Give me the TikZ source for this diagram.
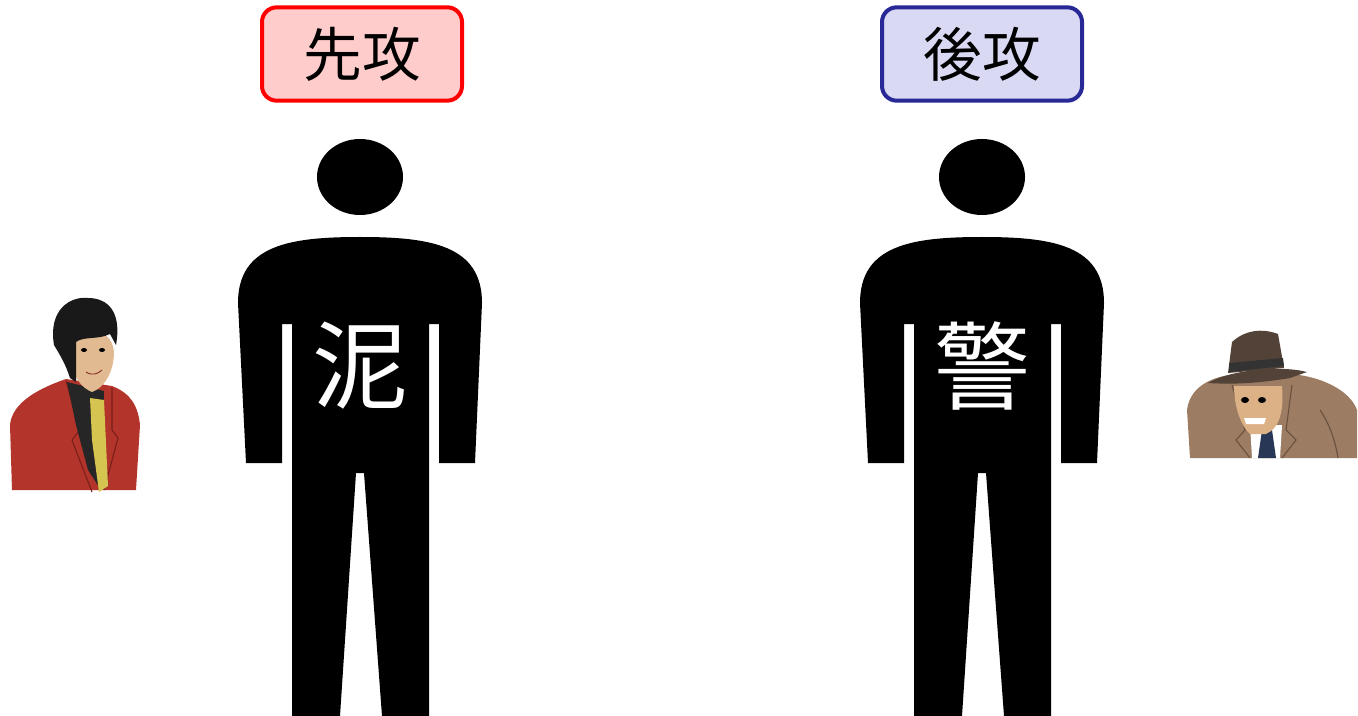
\documentclass[tikz,border=0pt]{standalone}
\usepackage{fontspec}
\setmainfont{Noto Sans CJK JP}
\definecolor{firstfill}{RGB}{255,204,204}
\definecolor{firstline}{RGB}{255,0,0}
\definecolor{secondfill}{RGB}{217,217,243}
\definecolor{secondline}{RGB}{40,40,150}
\definecolor{jacketred}{RGB}{178,52,42}
\definecolor{jacketdark}{RGB}{120,30,25}
\definecolor{tieyellow}{RGB}{214,196,80}
\definecolor{skin}{RGB}{226,186,146}
\definecolor{coatbrown}{RGB}{156,124,98}
\definecolor{coatdark}{RGB}{105,80,62}
\definecolor{hatbrown}{RGB}{82,66,56}
\definecolor{tienavy}{RGB}{40,55,85}
\begin{document}
\begin{tikzpicture}
% 1 unit = 1px of a 1358x716 sheet, y grows downward
[x=0.75pt,y=-0.75pt,
 turnbox/.style={draw,line width=3pt,rounded corners=11pt,minimum width=150pt,
   minimum height=70pt,inner sep=0pt,font=\fontsize{44}{44}\selectfont}]
\useasboundingbox (0,0) rectangle (1358,716);
\node[turnbox,draw=firstline,fill=firstfill] (first) at (362,54) {先攻};
\node[turnbox,draw=secondline,fill=secondfill] (second) at (982,54) {後攻};
\foreach \cx/\word/\name in {360/泥/thief,982/警/police}{
	% head
	\fill (\cx,177) ellipse [x radius=43,y radius=38];
	% body: shoulders, arms with gaps, legs with crotch wedge
	\fill (\cx,237) .. controls (\cx-70,237) and (\cx-122,245) .. (\cx-122,303)
		-- (\cx-114,463) -- (\cx-78,463) -- (\cx-78,324) -- (\cx-68,324)
		-- (\cx-68,716) -- (\cx-20,716) -- (\cx-4,473) -- (\cx+4,473)
		-- (\cx+22,716) -- (\cx+69,716) -- (\cx+69,324) -- (\cx+79,324)
		-- (\cx+79,463) -- (\cx+115,463) -- (\cx+122,303)
		.. controls (\cx+122,245) and (\cx+70,237) .. (\cx,237) -- cycle;
	\node[white,font=\fontsize{72}{72}\selectfont] (\name) at (\cx,366) {\word};
	}
% thief, left
\fill[jacketred] (12,490) -- (10,425) .. controls (12,402) and (40,388) .. (66,379)
	-- (112,386) .. controls (130,393) and (138,405) .. (140,425) -- (136,490) -- cycle;
\draw[jacketdark,line width=0.8pt] (66,381) -- (80,430) -- (72,440) -- (92,492)
	(112,388) -- (112,430) -- (118,438) -- (104,490);
\fill[black!85] (67,382) -- (104,391) -- (101,490) -- (88,470) -- (76,425) -- cycle;
\fill[tieyellow] (90,398) -- (104,400) -- (108,486) -- (99,492) -- (92,440) -- cycle;
\fill[skin] (72,333) .. controls (90,326) and (112,330) .. (114,352)
	.. controls (114,372) and (104,388) .. (92,392) .. controls (82,388) and (74,378) .. (72,365) -- cycle;
\fill[black!90] (54,345) .. controls (48,310) and (70,296) .. (88,298)
	.. controls (108,298) and (122,312) .. (116,345) -- (110,334)
	.. controls (98,340) and (84,336) .. (76,342) -- (76,382) -- (70,378)
	.. controls (66,365) and (60,355) .. (54,345) -- cycle;
\fill (84,350) ellipse [x radius=3,y radius=2] (102,350) ellipse [x radius=3,y radius=2];
\draw[jacketdark,line width=0.6pt] (86,372) .. controls (92,376) and (98,374) .. (102,370);
% police, right
\fill[coatbrown] (1190,458) -- (1187,410) .. controls (1190,385) and (1215,375) .. (1240,374)
	-- (1290,374) .. controls (1320,376) and (1350,390) .. (1357,410) -- (1357,458) -- cycle;
\fill[white] (1250,425) -- (1282,425) -- (1280,458) -- (1252,458) -- cycle;
\fill[tienavy] (1262,430) -- (1272,430) -- (1276,458) -- (1258,458) -- cycle;
\draw[coatdark,line width=0.8pt] (1232,385) -- (1245,430) -- (1236,440) -- (1250,458)
	(1292,385) -- (1286,430) -- (1296,440) -- (1282,458)
	(1320,410) .. controls (1330,425) and (1335,440) .. (1338,458);
\fill[skin!85!brown] (1234,386) -- (1282,386) .. controls (1284,410) and (1280,428) .. (1266,434)
	-- (1250,434) .. controls (1240,425) and (1234,405) .. (1234,386) -- cycle;
\fill[white] (1244,418) -- (1266,418) -- (1264,424) -- (1246,424) -- cycle;
\fill (1245,400) ellipse [x radius=4,y radius=3] (1262,400) ellipse [x radius=4,y radius=3];
\fill[hatbrown] (1208,383) .. controls (1230,370) and (1280,365) .. (1307,372)
	-- (1290,378) .. controls (1265,382) and (1240,385) .. (1208,383) -- cycle;
\fill[hatbrown] (1228,373) -- (1232,342) .. controls (1245,330) and (1262,328) .. (1278,334)
	-- (1284,368) -- cycle;
\fill[black!80] (1229,363) -- (1283,358) -- (1284,366) -- (1229,372) -- cycle;
\end{tikzpicture}
\end{document}
